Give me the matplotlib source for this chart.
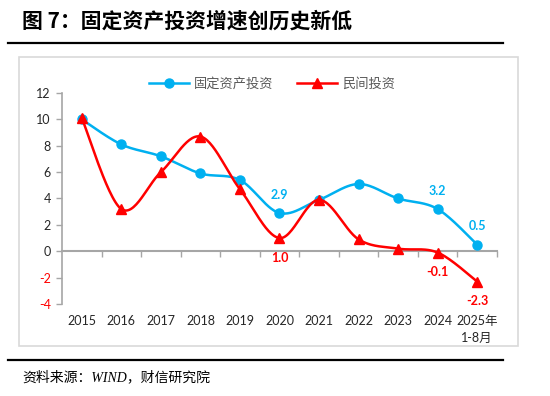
import numpy as np
import matplotlib
matplotlib.use("Agg")
from matplotlib import pyplot as plt
from matplotlib.lines import Line2D
from matplotlib.patches import Rectangle

plt.rcParams['font.family'] = ['Lato', 'Noto Sans CJK SC', 'DejaVu Sans']

years = ["2015", "2016", "2017", "2018", "2019", "2020",
         "2021", "2022", "2023", "2024", "2025年\n1-8月"]
fai = [10.0, 8.1, 7.2, 5.9, 5.4, 2.9, 3.9, 5.1, 4.0, 3.2, 0.5]
private = [10.1, 3.2, 6.0, 8.7, 4.7, 1.0, 3.9, 0.9, 0.2, -0.1, -2.3]
yticks = [12, 10, 8, 6, 4, 2, 0, -2, -4]

fai_labels = {5: "2.9", 9: "3.2", 10: "0.5"}
private_labels = {5: "1.0", 9: "-0.1", 10: "-2.3"}

BLUE = "#00B0F0"
RED = "#FF0000"
GREY = "#A6A6A6"


def smooth(y, n=30):
    # excel-like smoothed line: bezier with catmull-rom style control points
    x = np.arange(len(y), dtype=float)
    y = np.asarray(y, dtype=float)
    px, py = [], []
    for i in range(len(y) - 1):
        i0 = max(i - 1, 0)
        i3 = min(i + 2, len(y) - 1)
        p0 = np.array([x[i], y[i]])
        p3 = np.array([x[i + 1], y[i + 1]])
        p1 = p0 + (np.array([x[i + 1], y[i + 1]]) - np.array([x[i0], y[i0]])) / 6
        p2 = p3 - (np.array([x[i3], y[i3]]) - np.array([x[i], y[i]])) / 6
        t = np.linspace(0, 1, n)[:, None]
        pts = ((1 - t) ** 3) * p0 + 3 * ((1 - t) ** 2) * t * p1 + 3 * (1 - t) * t ** 2 * p2 + t ** 3 * p3
        px.extend(pts[:, 0])
        py.extend(pts[:, 1])
    return px, py


fig = plt.figure(figsize=(5.5, 3.96), dpi=100)
W, H = 550, 396

# title, rules, source
fig.text(22 / W, 1 - 21 / H, "图 7：固定资产投资增速创历史新低", fontsize=15, fontweight="bold",
         family=["Noto Sans CJK SC"], va="center", ha="left")
fig.add_artist(Line2D([8 / W, 503 / W], [1 - 43 / H, 1 - 43 / H], color="black", lw=1.6))
fig.add_artist(Line2D([8 / W, 503 / W], [1 - 360 / H, 1 - 360 / H], color="black", lw=1.6))
fig.text(22 / W, 1 - 377 / H, "资料来源：WIND，财信研究院", fontsize=10, style="italic",
         family=["Liberation Serif", "Noto Sans CJK SC"], va="center", ha="left")
fig.add_artist(Rectangle((19 / W, 1 - 346 / H), (518 - 19) / W, (346 - 57) / H,
                         transform=fig.transFigure, fill=False, edgecolor="#D9D9D9", lw=1.2))

ax = fig.add_axes([62 / W, 1 - 304 / H, (497 - 62) / W, (304 - 93) / H])
x = np.arange(len(years))

bx, by = smooth(fai)
rx, ry = smooth(private)
ax.plot(bx, by, color=BLUE, lw=1.8, zorder=3)
ax.plot(rx, ry, color=RED, lw=1.8, zorder=4)
ax.plot(x, fai, "o", color=BLUE, ms=6.5, zorder=3)
ax.plot(x, private, "^", color=RED, ms=7, zorder=4)

for i, s in fai_labels.items():
    ax.annotate(s, (x[i], fai[i]), xytext=(0, 9), textcoords="offset points",
                ha="center", va="bottom", color=BLUE, fontsize=9, fontweight="bold")
for i, s in private_labels.items():
    ax.annotate(s, (x[i], private[i]), xytext=(0, -10), textcoords="offset points",
                ha="center", va="top", color=RED, fontsize=9, fontweight="bold")

ax.set_xlim(-0.5, len(years) - 0.5)
ax.set_ylim(-4, 12)
ax.set_yticks(yticks)
ax.set_yticklabels([str(v) for v in yticks], fontsize=9)
for lab, v in zip(ax.get_yticklabels(), yticks):
    lab.set_color(RED if v < 0 else "#262626")
ax.tick_params(axis="y", direction="out", length=4, color=GREY, width=1, pad=4)

ax.spines["top"].set_visible(False)
ax.spines["right"].set_visible(False)
ax.spines["left"].set_color(GREY)
ax.spines["left"].set_linewidth(1.2)
ax.spines["bottom"].set_position(("data", 0))
ax.spines["bottom"].set_color(GREY)
ax.spines["bottom"].set_linewidth(1.5)
ax.set_xticks(np.arange(len(years)) + 0.5)
ax.set_xticklabels([])
ax.tick_params(axis="x", direction="out", length=4, color=GREY, width=1)

for i, s in enumerate(years):
    ax.annotate(s, (x[i], -4), xytext=(0, -8), textcoords="offset points",
                ha="center", va="top", fontsize=9, color="#262626", linespacing=1.45)

handles = [Line2D([], [], color=BLUE, lw=1.8, marker="o", ms=6.5),
           Line2D([], [], color=RED, lw=1.8, marker="^", ms=7)]
fig.legend(handles, ["固定资产投资", "民间投资"], loc="center",
           bbox_to_anchor=(272 / W, 1 - 83 / H), ncol=2, frameon=False,
           fontsize=9.5, handlelength=3.0, columnspacing=1.8, handletextpad=0.4,
           labelcolor="#595959")

fig.savefig("out.png", dpi=100)
